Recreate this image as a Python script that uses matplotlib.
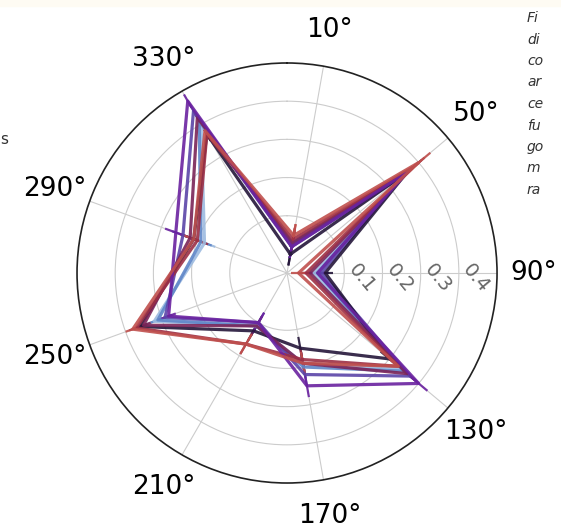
import matplotlib.pyplot as plt
import numpy as np
from matplotlib.patches import Rectangle

# angles (deg, clockwise from north) and radial ticks
angles_deg = [10, 50, 90, 130, 170, 210, 250, 290, 330]
r_ticks = [0.1, 0.2, 0.3, 0.4]

# one radial profile per run
run_light_blue = [0.03, 0.34, 0.02, 0.34, 0.19, 0.11, 0.32, 0.18, 0.40]
run_blue = [0.03, 0.35, 0.03, 0.35, 0.20, 0.11, 0.31, 0.19, 0.41]
run_indigo = [0.02, 0.35, 0.04, 0.37, 0.22, 0.10, 0.29, 0.24, 0.44]
run_purple = [0.02, 0.36, 0.03, 0.40, 0.25, 0.10, 0.28, 0.26, 0.47]
run_dark = [0.00, 0.36, 0.05, 0.30, 0.15, 0.125, 0.36, 0.21, 0.37]
run_plum = [0.03, 0.37, 0.01, 0.36, 0.19, 0.11, 0.35, 0.22, 0.42]
run_maroon = [0.04, 0.38, 0.00, 0.33, 0.18, 0.165, 0.37, 0.20, 0.37]
run_red = [0.05, 0.40, -0.02, 0.33, 0.19, 0.165, 0.38, 0.21, 0.38]
err = [0.03, 0.04, 0.02, 0.03, 0.03, 0.03, 0.02, 0.03, 0.02]

runs = [run_light_blue, run_blue, run_indigo, run_dark, run_plum,
        run_maroon, run_purple, run_red]
colors = ['#9dbbe0', '#5f86c8', '#5b45a8', '#24163a', '#7a2458',
          '#9c2f45', '#6a22a0', '#c0504d']

# caption fragments cut off at the right edge
caption = ['Fi', 'di', 'co', 'ar', 'ce', 'fu', 'go', 'm', 'ra']

fig = plt.figure(figsize=(5.61, 5.28), dpi=100)
fig.patches.append(Rectangle((0, 0.988), 1, 0.012, transform=fig.transFigure,
                             color='#fefbf3', zorder=0))
ax = fig.add_axes([0.1373, 0.0852, 0.7487, 0.7955], projection='polar')
ax.set_theta_zero_location('N')
ax.set_theta_direction(-1)

theta = np.deg2rad(angles_deg + angles_deg[:1])
err_c = err + err[:1]
for vals, c in zip(runs, colors):
    ax.errorbar(theta, vals + vals[:1], yerr=err_c, color=c, lw=2.3,
                elinewidth=1.6, capsize=0, alpha=0.9)

ax.set_ylim(-0.05, 0.5)
ax.set_yticks(r_ticks)
ax.set_yticklabels([str(t) for t in r_ticks], fontsize=14, color='#666666')
ax.tick_params(axis='y', labelrotation=-50)
ax.set_rlabel_position(90)
ax.set_thetagrids(angles_deg, [f'{a}°' for a in angles_deg], fontsize=19)
ax.tick_params(axis='x', pad=16)
ax.grid(color='#cccccc', lw=0.8)
ax.spines['polar'].set_color('#222222')
ax.spines['polar'].set_linewidth(1.2)

for i, s in enumerate(caption):
    fig.text(527 / 561, 1 - (18 + 21.5 * i) / 528, s, fontsize=10,
             style='italic', color='#333333', va='center', ha='left')
fig.text(0.0, 1 - 140 / 528, 's', fontsize=11, color='#333333', va='center')

fig.savefig('out.png', dpi=100)
